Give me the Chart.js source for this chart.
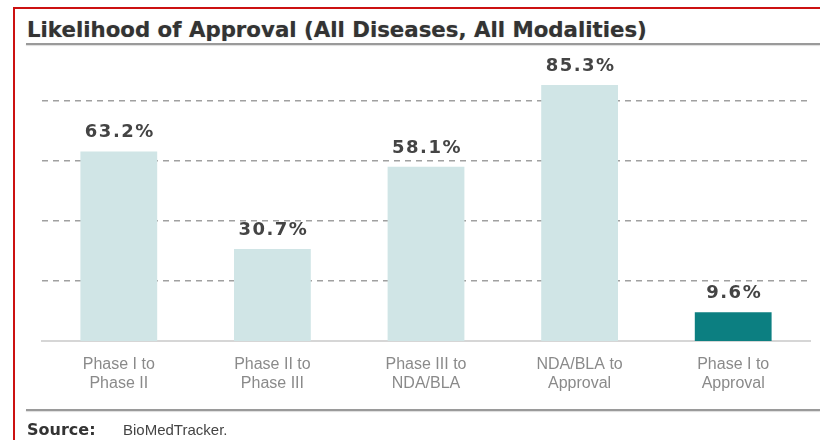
<!DOCTYPE html>
<html>
<head>
<meta charset="utf-8">
<script src="https://cdn.jsdelivr.net/npm/chart.js@4/dist/chart.umd.min.js"></script>
<style>
 html, body { margin: 0; padding: 0; background: #fff; }
 #wrap { position: relative; width: 820px; height: 440px; overflow: hidden; }
 #frame { position: absolute; left: 13px; top: 7px; width: 820px; height: 440px;
   border-left: 2px solid #cc1111; border-top: 2px solid #cc1111; }
 #title { position: absolute; left: 27px; top: 17px; font: bold 21.3px "DejaVu Sans", Verdana, sans-serif;
   color: #333; text-shadow: 0 0 1px #aaa; white-space: nowrap; }
 .rule { position: absolute; left: 26px; width: 794px; height: 2px; background: #9a9a9a;
   box-shadow: 0 1px 1px #ddd; }
 #source { position: absolute; left: 27px; top: 420px; color: #333; white-space: nowrap; }
 #source b { font: bold 16px "DejaVu Sans", Verdana, sans-serif; }
 #source span { position: absolute; left: 96px; top: 1px; font: 15px "Liberation Sans", Arial, sans-serif; color: #444; }
 canvas { position: absolute; left: 0; top: 0; }
</style>
</head>
<body>
<div id="wrap">
 <div id="frame"></div>
 <div id="title">Likelihood of Approval (All Diseases, All Modalities)</div>
 <div class="rule" style="top:43px"></div>
 <canvas id="chart" width="820" height="440"></canvas>
 <div class="rule" style="top:409px"></div>
 <div id="source"><b>Source:</b><span>BioMedTracker.</span></div>
</div>
<script>
// data
const categories = [
 ['Phase I to', 'Phase II'],
 ['Phase II to', 'Phase III'],
 ['Phase III to', 'NDA/BLA'],
 ['NDA/BLA to', 'Approval'],
 ['Phase I to', 'Approval']
];
const likelihood = [63.2, 30.7, 58.1, 85.3, 9.6];
const gridTicks = [20, 40, 60, 80];
const barColors = ['#d0e5e6', '#d0e5e6', '#d0e5e6', '#d0e5e6', '#0c7f81'];

const valueLabels = {
 id: 'valueLabels',
 afterDatasetsDraw(chart) {
   const ctx = chart.ctx;
   const meta = chart.getDatasetMeta(0);
   ctx.save();
   ctx.font = 'bold 18px "DejaVu Sans", Verdana, sans-serif';
   ctx.fillStyle = '#444';
   ctx.textAlign = 'center';
   ctx.textBaseline = 'alphabetic';
   ctx.letterSpacing = '1.5px';
   meta.data.forEach((bar, i) => {
     ctx.fillText(likelihood[i].toFixed(1) + '%', bar.x + 1, bar.y - 14);
   });
   ctx.restore();
 }
};

new Chart(document.getElementById('chart'), {
 type: 'bar',
 data: {
   labels: categories,
   datasets: [{
     data: likelihood,
     backgroundColor: barColors,
     barPercentage: 0.5,
     categoryPercentage: 1
   }]
 },
 options: {
   responsive: false,
   animation: false,
   layout: { padding: { left: 42, right: 10, top: 56, bottom: 29 } },
   plugins: { legend: { display: false }, tooltip: { enabled: false } },
   scales: {
     x: {
       grid: { display: false },
       border: { display: true, color: '#d6d6d6', width: 2 },
       ticks: {
         color: '#8a8a8a',
         padding: 6,
         font: { family: '"Liberation Sans", Arial, sans-serif', size: 16, lineHeight: 1.2 }
       },
       afterFit: s => { s.height = 70; }
     },
     y: {
       min: 0,
       max: 95,
       afterBuildTicks: s => { s.ticks = gridTicks.map(v => ({ value: v })); },
       ticks: { display: false },
       border: { display: false, dash: [6, 5] },
       grid: { color: '#a0a0a0', lineWidth: 1.5, drawTicks: false },
       afterFit: s => { s.width = 0; }
     }
   }
 },
 plugins: [valueLabels]
});
</script>
</body>
</html>
